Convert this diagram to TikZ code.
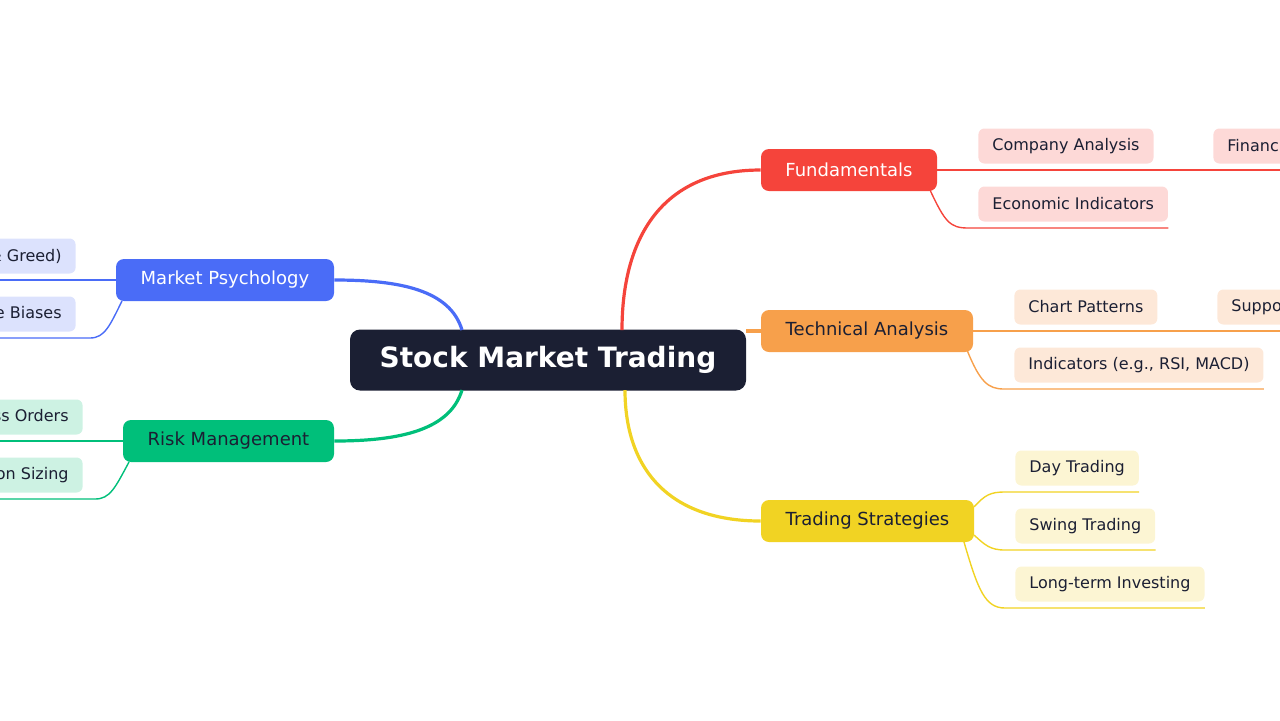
\documentclass[tikz,border=0pt]{standalone}
\usepackage{fontspec}
\setmainfont{DejaVu Sans}
\usetikzlibrary{positioning}

\definecolor{ink}{HTML}{1B1F33}
\definecolor{redB}{HTML}{F5443B}
\definecolor{redL}{HTML}{FDD9D7}
\definecolor{orangeB}{HTML}{F7A04B}
\definecolor{orangeL}{HTML}{FDE8D8}
\definecolor{yellowB}{HTML}{F1D323}
\definecolor{yellowL}{HTML}{FCF5D3}
\definecolor{blueB}{HTML}{4A6CF7}
\definecolor{blueL}{HTML}{DCE2FD}
\definecolor{greenB}{HTML}{00BF7A}
\definecolor{greenL}{HTML}{CDF2E3}

\tikzset{
  branch/.style={rounded corners=4pt, minimum height=21pt, inner sep=0pt,
    font=\fontsize{9}{11}\selectfont},
  leaf/.style={rounded corners=3pt, minimum height=17.5pt, inner xsep=7pt, inner ysep=0pt,
    text=ink, font=\fontsize{8}{10}\selectfont},
  trunk/.style={line width=1.6pt},
  twig/.style={line width=0.7pt}
}

\begin{document}
\begin{tikzpicture}[x=0.5pt, y=-0.5pt]
  \useasboundingbox (0,0) rectangle (1280,720);
  \clip (0,0) rectangle (1280,720);

  % Root
  \node[fill=ink, text=white, rounded corners=5pt, minimum width=198pt, minimum height=30.5pt,
    font=\fontsize{14}{17}\selectfont\bfseries] (root) at (548,360) {Stock Market Trading};

  % Branches
  \node[branch, fill=redB, text=white, minimum width=88pt] (fund) at (849,170) {Fundamentals};
  \node[branch, fill=orangeB, text=ink, minimum width=106pt] (tech) at (867,331) {Technical Analysis};
  \node[branch, fill=yellowB, text=ink, minimum width=106.5pt] (strat) at (867.5,521) {Trading Strategies};
  \node[branch, fill=blueB, text=white, minimum width=109pt] (psych) at (225,280) {Market Psychology};
  \node[branch, fill=greenB, text=ink, minimum width=105.5pt] (risk) at (228.5,441) {Risk Management};

  % Trunk connectors
  \draw[trunk, redB] (622,330) .. controls (622,240) and (660,170) .. (fund.west);
  \draw[trunk, orangeB] (root.east |- tech) -- (tech.west);
  \draw[trunk, yellowB] (625,390) .. controls (625,470) and (670,521) .. (strat.west);
  \draw[trunk, blueB] (462,330) .. controls (450,290) and (400,280) .. (psych.east);
  \draw[trunk, greenB] (462,390) .. controls (450,430) and (400,441) .. (risk.east);

  % Fundamentals leaves
  \node[leaf, fill=redL, anchor=west] (company) at (978,146) {Company Analysis};
  \node[leaf, fill=redL, anchor=west] (financial) at (1213,146) {Financial Statements};
  \node[leaf, fill=redL, anchor=west] (econ) at (978,204) {Economic Indicators};
  \draw[twig, redB] (fund.east) -- (1280,170);
  \draw[twig, redB] (930,190) .. controls (945,222) and (950,228) .. (968,228) -- (econ.east |- 0,228);

  % Technical leaves
  \node[leaf, fill=orangeL, anchor=west] (chart) at (1014,307) {Chart Patterns};
  \node[leaf, fill=orangeL, anchor=west] (support) at (1217,307) {Support \& Resistance};
  \node[leaf, fill=orangeL, anchor=west] (indic) at (1014,365) {Indicators (e.g., RSI, MACD)};
  \draw[twig, orangeB] (tech.east) -- (1280,331);
  \draw[twig, orangeB] (967,350) .. controls (980,382) and (988,389) .. (1004,389) -- (indic.east |- 0,389);

  % Strategy leaves
  \node[leaf, fill=yellowL, anchor=west] (day) at (1015,468) {Day Trading};
  \node[leaf, fill=yellowL, anchor=west] (swing) at (1015,526) {Swing Trading};
  \node[leaf, fill=yellowL, anchor=west] (long) at (1015,584) {Long-term Investing};
  \draw[twig, yellowB] (974,507) .. controls (985,495) and (990,492) .. (1005,492) -- (day.east |- 0,492);
  \draw[twig, yellowB] (974,535) .. controls (985,545) and (990,550) .. (1005,550) -- (swing.east |- 0,550);
  \draw[twig, yellowB] (964,542) .. controls (978,590) and (985,608) .. (1005,608) -- (long.east |- 0,608);

  % Psychology leaves
  \node[leaf, fill=blueL, anchor=east] (fear) at (76,256) {Emotions (Fear \& Greed)};
  \node[leaf, fill=blueL, anchor=east] (bias) at (76,314) {Cognitive Biases};
  \draw[twig, blueB] (psych.west) -- (0,280);
  \draw[twig, blueB] (122,301) .. controls (110,325) and (105,338) .. (90,338) -- (0,338);

  % Risk leaves
  \node[leaf, fill=greenL, anchor=east] (stop) at (83,417) {Stop-Loss Orders};
  \node[leaf, fill=greenL, anchor=east] (size) at (83,475) {Position Sizing};
  \draw[twig, greenB] (risk.west) -- (0,441);
  \draw[twig, greenB] (129,462) .. controls (115,488) and (110,499) .. (95,499) -- (0,499);
\end{tikzpicture}
\end{document}
